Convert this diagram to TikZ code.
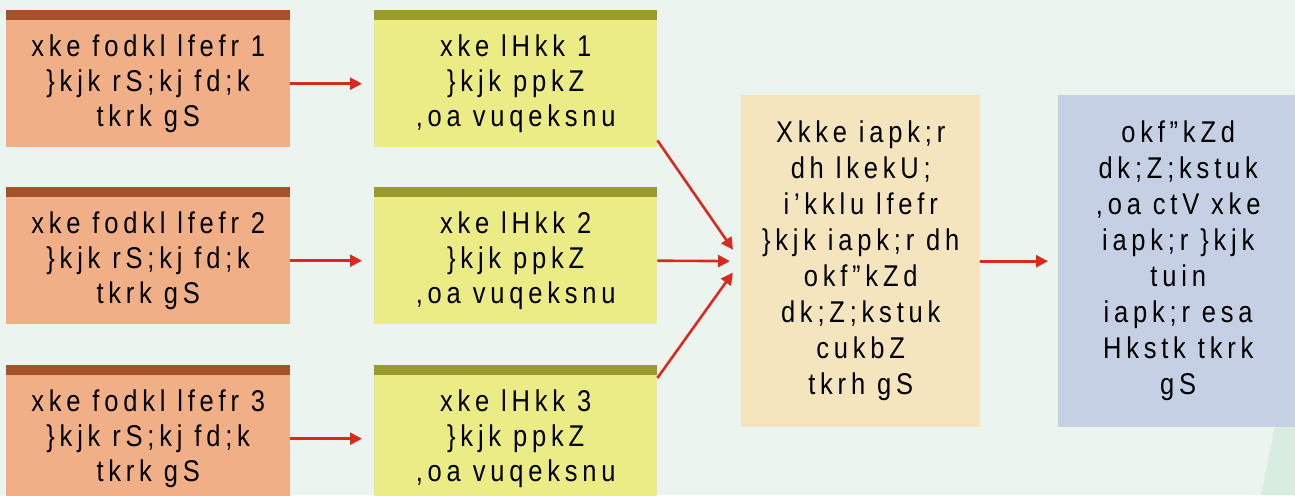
\documentclass[tikz,border=0pt]{standalone}
\usepackage{fontspec}
\setmainfont{Liberation Sans}[FakeStretch=0.85, LetterSpace=16]
\usetikzlibrary{arrows.meta}

\definecolor{bgcol}{HTML}{EBF4EF}
\definecolor{leafcol}{HTML}{D8EDE0}
\definecolor{samitibody}{HTML}{F0AF87}
\definecolor{samitibar}{HTML}{A5522A}
\definecolor{sabhabody}{HTML}{ECEC86}
\definecolor{sabhabar}{HTML}{9A9B2A}
\definecolor{panchbody}{HTML}{F5E5BF}
\definecolor{janpadbody}{HTML}{C5D0E5}
\definecolor{arrowcol}{HTML}{DA2A1E}

\tikzset{
  box/.style={anchor=north west, inner sep=0pt, align=center,
    font=\fontsize{30}{35}\selectfont},
  samitibox/.style={box, fill=samitibody, minimum width=284, minimum height=127},
  sabhabox/.style={box, fill=sabhabody, minimum width=283, minimum height=127},
  bigbox/.style={box, minimum width=239, minimum height=332,
    font=\fontsize{30}{36}\selectfont},
  flow/.style={draw=arrowcol, line width=2.6pt,
    -{Triangle[length=12pt,width=12pt]}}
}

\begin{document}
\begin{tikzpicture}[x=1pt,y=-1pt]
  % Background:
  \clip (0,0) rectangle (1295,495);
  \fill[bgcol] (0,0) rectangle (1295,495);
  \fill[leafcol] (1261,495) -- (1290,350) -- (1300,350) -- (1300,495) -- cycle;
  % Boxes:
  \foreach \i/\y in {1/20,2/197,3/375} {
    \node[samitibox] (samiti\i) at (6,\y)
      {xke fodkl lfefr \i\\\}kjk rS;kj fd;k\\tkrk gS};
    \fill[samitibar] (samiti\i.north west) rectangle ++(284,-10);
    \node[sabhabox] (sabha\i) at (374,\y)
      {xke lHkk \i\\\}kjk ppkZ\\,oa vuqeksnu};
    \fill[sabhabar] (sabha\i.north west) rectangle ++(283,-10);
  }
  \node[bigbox, fill=panchbody] (panchayat) at (741,95)
    {Xkke iapk;r\\dh lkekU;\\i'kklu lfefr\\\}kjk iapk;r dh\\okf"kZd\\dk;Z;kstuk\\cukbZ\\tkrh gS};
  \node[bigbox, fill=janpadbody, minimum width=240] (janpad) at (1058,95)
    {okf"kZd\\dk;Z;kstuk\\,oa ctV xke\\iapk;r \}kjk\\tuin\\iapk;r esa\\Hkstk tkrk\\gS};
  % Arrows:
  \foreach \i in {1,2,3}
    \draw[flow, shorten >=12pt] (samiti\i.east) -- (sabha\i.west);
  \draw[flow, shorten >=14pt] ([yshift=7pt]sabha1.south east) -- (panchayat.west);
  \draw[flow, shorten >=11pt] (sabha2.east) -- (panchayat.west);
  \draw[flow, shorten >=14pt] ([yshift=-3pt]sabha3.north east) -- (panchayat.west);
  \draw[flow, shorten >=10pt] (panchayat.east) -- (janpad.west);
\end{tikzpicture}
\end{document}
